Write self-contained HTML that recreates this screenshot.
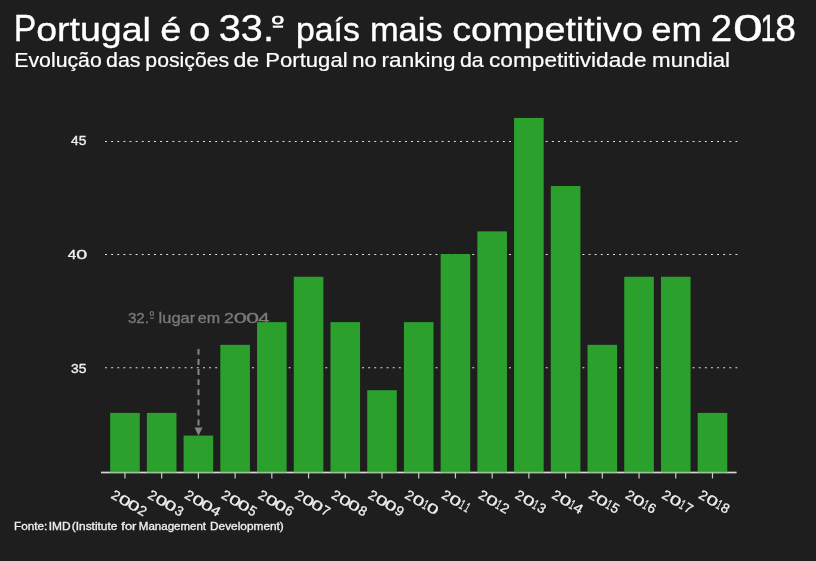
<!DOCTYPE html>
<html lang="pt"><head><meta charset="utf-8"><title>Portugal é o 33.º país mais competitivo em 2018</title>
<style>
html,body{margin:0;padding:0;background:#1e1e1e;}
body{width:816px;height:561px;overflow:hidden;}
svg{display:block;font-family:"Liberation Sans",sans-serif;}
</style></head><body>
<svg width="816" height="561" viewBox="0 0 816 561">
<rect width="816" height="561" fill="#1e1e1e"/>

<text fill="#ffffff" stroke="#ffffff" stroke-width="0.35" font-size="33.5px"><tspan x="13.83" textLength="22.56" lengthAdjust="spacingAndGlyphs" y="40.6" font-size="36.5px">P</tspan><tspan x="36.22" textLength="114.68" lengthAdjust="spacingAndGlyphs">ortugal</tspan> <tspan x="160.29" textLength="21.10" lengthAdjust="spacingAndGlyphs" y="40.6">é</tspan> <tspan x="188.99" textLength="21.38" lengthAdjust="spacingAndGlyphs" y="40.6">o</tspan> <tspan x="218.79" textLength="55.13" lengthAdjust="spacingAndGlyphs" y="40.6" font-size="36.5px">33.</tspan><tspan x="271.77" textLength="12.04" lengthAdjust="spacingAndGlyphs" y="31.3" font-size="22.9px">º</tspan> <tspan x="295.92" textLength="63.90" lengthAdjust="spacingAndGlyphs" y="40.6">país</tspan> <tspan x="369.91" textLength="72.73" lengthAdjust="spacingAndGlyphs" y="40.6">mais</tspan> <tspan x="452.15" textLength="190.84" lengthAdjust="spacingAndGlyphs" y="40.6">competitivo</tspan> <tspan x="651.25" textLength="50.54" lengthAdjust="spacingAndGlyphs" y="40.6">em</tspan> <tspan font-size="36.5px"><tspan x="710.87" textLength="21.36" lengthAdjust="spacingAndGlyphs" y="40.6">2</tspan><tspan x="732.91" textLength="29.78" lengthAdjust="spacingAndGlyphs">0</tspan><tspan x="760.61" textLength="15.22" lengthAdjust="spacingAndGlyphs">1</tspan><tspan x="775.28" textLength="20.74" lengthAdjust="spacingAndGlyphs">8</tspan></tspan></text>
<rect x="272.8" y="25.6" width="10.3" height="2.15" fill="#ffffff"/>
<text y="66.9" fill="#ffffff" stroke="#ffffff" stroke-width="0.2" font-size="19.3px"><tspan x="14.25" textLength="87.54" lengthAdjust="spacingAndGlyphs">Evolução</tspan> <tspan x="106.00" textLength="34.47" lengthAdjust="spacingAndGlyphs">das</tspan> <tspan x="145.33" textLength="83.84" lengthAdjust="spacingAndGlyphs">posições</tspan> <tspan x="233.43" textLength="25.70" lengthAdjust="spacingAndGlyphs">de</tspan> <tspan x="265.39" textLength="82.19" lengthAdjust="spacingAndGlyphs">Portugal</tspan> <tspan x="352.28" textLength="24.54" lengthAdjust="spacingAndGlyphs">no</tspan> <tspan x="381.60" textLength="73.95" lengthAdjust="spacingAndGlyphs">ranking</tspan> <tspan x="460.00" textLength="23.75" lengthAdjust="spacingAndGlyphs">da</tspan> <tspan x="488.94" textLength="157.57" lengthAdjust="spacingAndGlyphs">competitividade</tspan> <tspan x="652.12" textLength="77.97" lengthAdjust="spacingAndGlyphs">mundial</tspan></text>
<g stroke="#e6e6e6" stroke-width="1.05" stroke-dasharray="1.9,4.2205" fill="none">
<line x1="105.05" x2="738.2" y1="367.70" y2="367.70"/>
<line x1="105.05" x2="738.2" y1="254.55" y2="254.55"/>
<line x1="105.05" x2="738.2" y1="141.40" y2="141.40"/>
</g>
<g fill="#f0f0f0" stroke="#f0f0f0" stroke-width="0.35" font-size="13.3px" text-anchor="end">
<text x="86.4" y="372.60" textLength="15.4" lengthAdjust="spacingAndGlyphs">35</text>
<text y="259.45" text-anchor="start"><tspan x="67.85" textLength="8.50" lengthAdjust="spacingAndGlyphs">4</tspan><tspan x="76.23" textLength="10.94" lengthAdjust="spacingAndGlyphs">0</tspan></text>
<text x="86.4" y="145.20" textLength="15.3" lengthAdjust="spacingAndGlyphs">45</text>
</g>
<text y="323.1" font-size="14.6px" fill="#7a7a7a" stroke="#7a7a7a" stroke-width="0.3"><tspan x="127.92" textLength="21.06" lengthAdjust="spacingAndGlyphs">32.</tspan><tspan x="149.84" textLength="4.30" lengthAdjust="spacingAndGlyphs" y="319.3" font-size="10.5px">º</tspan> <tspan x="158.64" textLength="36.63" lengthAdjust="spacingAndGlyphs" y="323.1">lugar</tspan> <tspan x="197.82" textLength="22.34" lengthAdjust="spacingAndGlyphs">em</tspan> <tspan x="224.11" textLength="9.89" lengthAdjust="spacingAndGlyphs">2</tspan><tspan x="233.83" textLength="13.09" lengthAdjust="spacingAndGlyphs">0</tspan><tspan x="245.98" textLength="13.03" lengthAdjust="spacingAndGlyphs">0</tspan><tspan x="258.28" textLength="11.31" lengthAdjust="spacingAndGlyphs">4</tspan></text>
<rect x="150" y="317.6" width="4.1" height="1.1" fill="#7a7a7a"/>
<line x1="101" x2="736.5" y1="472.6" y2="472.6" stroke="#d6d6d6" stroke-width="1.5"/>
<g fill="#2ca02c">
<rect x="110.16" y="412.90" width="29.6" height="59.80"/>
<rect x="146.88" y="412.90" width="29.6" height="59.80"/>
<rect x="183.60" y="435.59" width="29.6" height="37.11"/>
<rect x="220.32" y="344.83" width="29.6" height="127.87"/>
<rect x="257.04" y="322.14" width="29.6" height="150.56"/>
<rect x="293.76" y="276.76" width="29.6" height="195.94"/>
<rect x="330.48" y="322.14" width="29.6" height="150.56"/>
<rect x="367.20" y="390.21" width="29.6" height="82.49"/>
<rect x="403.92" y="322.14" width="29.6" height="150.56"/>
<rect x="440.64" y="254.07" width="29.6" height="218.63"/>
<rect x="477.36" y="231.38" width="29.6" height="241.32"/>
<rect x="514.08" y="117.93" width="29.6" height="354.77"/>
<rect x="550.80" y="186.00" width="29.6" height="286.70"/>
<rect x="587.52" y="344.83" width="29.6" height="127.87"/>
<rect x="624.24" y="276.76" width="29.6" height="195.94"/>
<rect x="660.96" y="276.76" width="29.6" height="195.94"/>
<rect x="697.68" y="412.90" width="29.6" height="59.80"/>
</g>
<line x1="198.5" x2="198.5" y1="348.9" y2="426" stroke="#858585" stroke-width="2" stroke-dasharray="5.9,4.2"/>
<path d="M194.5 427.4 L202.5 427.4 L198.5 435.8 Z" fill="#858585"/>
<line x1="101" x2="736.5" y1="472.6" y2="472.6" stroke="#d6d6d6" stroke-width="1.5" opacity="0.5"/>
<g stroke="#cccccc" stroke-width="1.2">
<line x1="124.96" x2="124.96" y1="472.6" y2="478.4"/>
<line x1="161.68" x2="161.68" y1="472.6" y2="478.4"/>
<line x1="198.40" x2="198.40" y1="472.6" y2="478.4"/>
<line x1="235.12" x2="235.12" y1="472.6" y2="478.4"/>
<line x1="271.84" x2="271.84" y1="472.6" y2="478.4"/>
<line x1="308.56" x2="308.56" y1="472.6" y2="478.4"/>
<line x1="345.28" x2="345.28" y1="472.6" y2="478.4"/>
<line x1="382.00" x2="382.00" y1="472.6" y2="478.4"/>
<line x1="418.72" x2="418.72" y1="472.6" y2="478.4"/>
<line x1="455.44" x2="455.44" y1="472.6" y2="478.4"/>
<line x1="492.16" x2="492.16" y1="472.6" y2="478.4"/>
<line x1="528.88" x2="528.88" y1="472.6" y2="478.4"/>
<line x1="565.60" x2="565.60" y1="472.6" y2="478.4"/>
<line x1="602.32" x2="602.32" y1="472.6" y2="478.4"/>
<line x1="639.04" x2="639.04" y1="472.6" y2="478.4"/>
<line x1="675.76" x2="675.76" y1="472.6" y2="478.4"/>
<line x1="712.48" x2="712.48" y1="472.6" y2="478.4"/>
</g>
<g fill="#f0f0f0" stroke="#f0f0f0" stroke-width="0.3" font-size="13.5px">
<text transform="translate(110.90,497.9) rotate(30)"><tspan x="-0.70" textLength="7.75" lengthAdjust="spacingAndGlyphs">2</tspan><tspan x="7.65" textLength="11.40" lengthAdjust="spacingAndGlyphs">0</tspan><tspan x="17.95" textLength="11.40" lengthAdjust="spacingAndGlyphs">0</tspan><tspan x="29.90" textLength="7.75" lengthAdjust="spacingAndGlyphs">2</tspan></text>
<text transform="translate(147.62,497.9) rotate(30)"><tspan x="-0.70" textLength="7.75" lengthAdjust="spacingAndGlyphs">2</tspan><tspan x="7.65" textLength="11.40" lengthAdjust="spacingAndGlyphs">0</tspan><tspan x="17.95" textLength="11.40" lengthAdjust="spacingAndGlyphs">0</tspan><tspan x="30.09" textLength="7.45" lengthAdjust="spacingAndGlyphs">3</tspan></text>
<text transform="translate(184.34,497.9) rotate(30)"><tspan x="-0.70" textLength="7.75" lengthAdjust="spacingAndGlyphs">2</tspan><tspan x="7.65" textLength="11.40" lengthAdjust="spacingAndGlyphs">0</tspan><tspan x="17.95" textLength="11.40" lengthAdjust="spacingAndGlyphs">0</tspan><tspan x="29.44" textLength="8.83" lengthAdjust="spacingAndGlyphs">4</tspan></text>
<text transform="translate(221.06,497.9) rotate(30)"><tspan x="-0.70" textLength="7.75" lengthAdjust="spacingAndGlyphs">2</tspan><tspan x="7.65" textLength="11.40" lengthAdjust="spacingAndGlyphs">0</tspan><tspan x="17.95" textLength="11.40" lengthAdjust="spacingAndGlyphs">0</tspan><tspan x="30.06" textLength="7.45" lengthAdjust="spacingAndGlyphs">5</tspan></text>
<text transform="translate(257.78,497.9) rotate(30)"><tspan x="-0.70" textLength="7.75" lengthAdjust="spacingAndGlyphs">2</tspan><tspan x="7.65" textLength="11.40" lengthAdjust="spacingAndGlyphs">0</tspan><tspan x="17.95" textLength="11.40" lengthAdjust="spacingAndGlyphs">0</tspan><tspan x="29.90" textLength="7.65" lengthAdjust="spacingAndGlyphs">6</tspan></text>
<text transform="translate(294.50,497.9) rotate(30)"><tspan x="-0.70" textLength="7.75" lengthAdjust="spacingAndGlyphs">2</tspan><tspan x="7.65" textLength="11.40" lengthAdjust="spacingAndGlyphs">0</tspan><tspan x="17.95" textLength="11.40" lengthAdjust="spacingAndGlyphs">0</tspan><tspan x="29.88" textLength="7.77" lengthAdjust="spacingAndGlyphs">7</tspan></text>
<text transform="translate(331.22,497.9) rotate(30)"><tspan x="-0.70" textLength="7.75" lengthAdjust="spacingAndGlyphs">2</tspan><tspan x="7.65" textLength="11.40" lengthAdjust="spacingAndGlyphs">0</tspan><tspan x="17.95" textLength="11.40" lengthAdjust="spacingAndGlyphs">0</tspan><tspan x="30.01" textLength="7.53" lengthAdjust="spacingAndGlyphs">8</tspan></text>
<text transform="translate(367.94,497.9) rotate(30)"><tspan x="-0.70" textLength="7.75" lengthAdjust="spacingAndGlyphs">2</tspan><tspan x="7.65" textLength="11.40" lengthAdjust="spacingAndGlyphs">0</tspan><tspan x="17.95" textLength="11.40" lengthAdjust="spacingAndGlyphs">0</tspan><tspan x="29.96" textLength="7.65" lengthAdjust="spacingAndGlyphs">9</tspan></text>
<text transform="translate(404.66,497.9) rotate(30)"><tspan x="-0.70" textLength="7.75" lengthAdjust="spacingAndGlyphs">2</tspan><tspan x="7.65" textLength="11.40" lengthAdjust="spacingAndGlyphs">0</tspan><tspan x="19.05" textLength="4.50" lengthAdjust="spacingAndGlyphs">1</tspan><tspan x="23.95" textLength="11.40" lengthAdjust="spacingAndGlyphs">0</tspan></text>
<text transform="translate(441.38,497.9) rotate(30)"><tspan x="-0.70" textLength="7.75" lengthAdjust="spacingAndGlyphs">2</tspan><tspan x="7.65" textLength="11.40" lengthAdjust="spacingAndGlyphs">0</tspan><tspan x="19.05" textLength="4.50" lengthAdjust="spacingAndGlyphs">1</tspan><tspan x="25.05" textLength="4.50" lengthAdjust="spacingAndGlyphs">1</tspan></text>
<text transform="translate(478.10,497.9) rotate(30)"><tspan x="-0.70" textLength="7.75" lengthAdjust="spacingAndGlyphs">2</tspan><tspan x="7.65" textLength="11.40" lengthAdjust="spacingAndGlyphs">0</tspan><tspan x="19.05" textLength="4.50" lengthAdjust="spacingAndGlyphs">1</tspan><tspan x="24.50" textLength="7.75" lengthAdjust="spacingAndGlyphs">2</tspan></text>
<text transform="translate(514.82,497.9) rotate(30)"><tspan x="-0.70" textLength="7.75" lengthAdjust="spacingAndGlyphs">2</tspan><tspan x="7.65" textLength="11.40" lengthAdjust="spacingAndGlyphs">0</tspan><tspan x="19.05" textLength="4.50" lengthAdjust="spacingAndGlyphs">1</tspan><tspan x="24.69" textLength="7.45" lengthAdjust="spacingAndGlyphs">3</tspan></text>
<text transform="translate(551.54,497.9) rotate(30)"><tspan x="-0.70" textLength="7.75" lengthAdjust="spacingAndGlyphs">2</tspan><tspan x="7.65" textLength="11.40" lengthAdjust="spacingAndGlyphs">0</tspan><tspan x="19.05" textLength="4.50" lengthAdjust="spacingAndGlyphs">1</tspan><tspan x="24.04" textLength="8.83" lengthAdjust="spacingAndGlyphs">4</tspan></text>
<text transform="translate(588.26,497.9) rotate(30)"><tspan x="-0.70" textLength="7.75" lengthAdjust="spacingAndGlyphs">2</tspan><tspan x="7.65" textLength="11.40" lengthAdjust="spacingAndGlyphs">0</tspan><tspan x="19.05" textLength="4.50" lengthAdjust="spacingAndGlyphs">1</tspan><tspan x="24.66" textLength="7.45" lengthAdjust="spacingAndGlyphs">5</tspan></text>
<text transform="translate(624.98,497.9) rotate(30)"><tspan x="-0.70" textLength="7.75" lengthAdjust="spacingAndGlyphs">2</tspan><tspan x="7.65" textLength="11.40" lengthAdjust="spacingAndGlyphs">0</tspan><tspan x="19.05" textLength="4.50" lengthAdjust="spacingAndGlyphs">1</tspan><tspan x="24.50" textLength="7.65" lengthAdjust="spacingAndGlyphs">6</tspan></text>
<text transform="translate(661.70,497.9) rotate(30)"><tspan x="-0.70" textLength="7.75" lengthAdjust="spacingAndGlyphs">2</tspan><tspan x="7.65" textLength="11.40" lengthAdjust="spacingAndGlyphs">0</tspan><tspan x="19.05" textLength="4.50" lengthAdjust="spacingAndGlyphs">1</tspan><tspan x="24.48" textLength="7.77" lengthAdjust="spacingAndGlyphs">7</tspan></text>
<text transform="translate(698.42,497.9) rotate(30)"><tspan x="-0.70" textLength="7.75" lengthAdjust="spacingAndGlyphs">2</tspan><tspan x="7.65" textLength="11.40" lengthAdjust="spacingAndGlyphs">0</tspan><tspan x="19.05" textLength="4.50" lengthAdjust="spacingAndGlyphs">1</tspan><tspan x="24.61" textLength="7.53" lengthAdjust="spacingAndGlyphs">8</tspan></text>
</g>
<text y="530.3" font-size="10.2px" fill="#f0f0f0" stroke="#f0f0f0" stroke-width="0.3"><tspan x="14.04" textLength="33.29" lengthAdjust="spacingAndGlyphs">Fonte:</tspan> <tspan x="48.65" textLength="21.93" lengthAdjust="spacingAndGlyphs">IMD</tspan> <tspan x="71.76" textLength="45.67" lengthAdjust="spacingAndGlyphs">(Institute</tspan> <tspan x="121.32" textLength="15.10" lengthAdjust="spacingAndGlyphs">for</tspan> <tspan x="138.80" textLength="67.28" lengthAdjust="spacingAndGlyphs">Management</tspan> <tspan x="210.03" textLength="73.81" lengthAdjust="spacingAndGlyphs">Development)</tspan></text>
</svg></body></html>
